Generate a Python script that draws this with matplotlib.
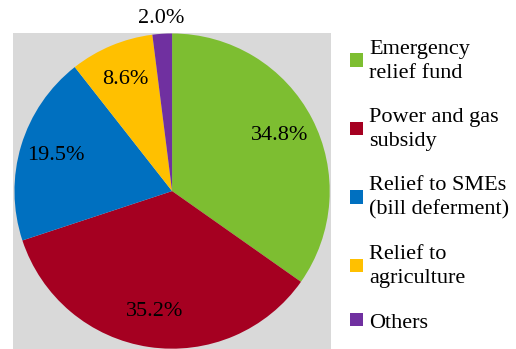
import numpy as np
import matplotlib.pyplot as plt
from matplotlib.patches import Patch

plt.rcParams['font.family'] = ['Liberation Serif', 'DejaVu Serif']

labels = ['Emergency\nrelief fund', 'Power and gas\nsubsidy',
          'Relief to SMEs\n(bill deferment)', 'Relief to\nagriculture', 'Others']
shares = [34.8, 35.2, 19.5, 8.6, 2.0]
colors = ['#7DBE31', '#A50021', '#0070C0', '#FFC000', '#7030A0']

fig = plt.figure(figsize=(5.16, 3.49), dpi=100)
ax = fig.add_axes([0.025, 0.0, 0.617, 0.905])

wedges, _ = ax.pie(shares, colors=colors, startangle=90, counterclock=False,
                   wedgeprops=dict(linewidth=0), radius=1.0)

# percentage labels, small slice goes outside the pie
for w, v in zip(wedges, shares):
    mid = np.deg2rad((w.theta1 + w.theta2) / 2)
    r = 1.1 if v < 5 else 0.77
    ax.text(r * np.cos(mid), r * np.sin(mid), f'{v:.1f}%', ha='center', va='center',
            fontsize=16, clip_on=False)

ax.set_frame_on(True)
ax.set_facecolor('#D9D9D9')
ax.set_aspect('equal')
ax.set_xlim(-1.01, 1.01)
ax.set_ylim(-1.0, 1.0)
ax.set_xticks([])
ax.set_yticks([])
for s in ax.spines.values():
    s.set_visible(False)

handles = [Patch(facecolor=c, edgecolor='none') for c in colors]
leg = fig.legend(handles, labels, loc='upper left', bbox_to_anchor=(0.662, 0.912),
                 frameon=False, fontsize=16, handlelength=0.55, handleheight=0.55,
                 handletextpad=0.3, labelspacing=1.14, borderaxespad=0)
for t in leg.get_texts():
    t.set_linespacing(1.35)

fig.savefig('out.png', dpi=100)
